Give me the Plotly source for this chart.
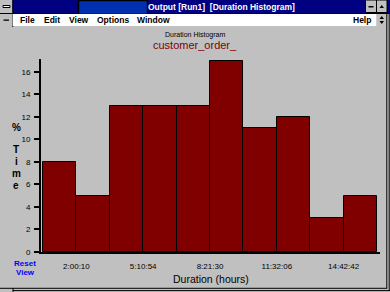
import plotly.graph_objects as go

# ---- data ----
bin_index = [0.5, 1.5, 2.5, 3.5, 4.5, 5.5, 6.5, 7.5, 8.5, 9.5]
pct_time = [8, 5, 13, 13, 13, 17, 11, 12, 3, 5]
x_tick_vals = [1, 3, 5, 7, 9]
x_tick_text = ["2:00:10", "5:10:54", "8:21:30", "11:32:06", "14:42:42"]
y_tick_vals = [0, 2, 4, 6, 8, 10, 12, 14, 16]
menu_items = ["File", "Edit", "View", "Options", "Window"]
menu_x = [19, 43, 68, 96, 136]

W, H = 390, 292
L, R, T, B = 41, 10, 59, 40
PW, PH = W - L - R, H - T - B

def px(x):
    return (x - L) / PW

def py(y):
    return (H - B - y) / PH

GREY = "#c0c0c0"
NAVY = "#000080"
FONT = "Liberation Sans, Arial, sans-serif"
NARROW = "Liberation Sans Narrow, Arial Narrow, Liberation Sans, sans-serif"

fig = go.Figure()
fig.add_trace(go.Bar(
    x=bin_index, y=pct_time, width=1,
    marker=dict(color="#800000", line=dict(color="black", width=1)),
    hoverinfo="skip",
))

shapes = []
def rect(x0, y0, x1, y1, fill, line=None, lw=0):
    shapes.append(dict(type="rect", xref="paper", yref="paper",
                       x0=px(x0), x1=px(x1), y0=py(y1), y1=py(y0),
                       fillcolor=fill,
                       line=dict(color=line or fill, width=lw)))

def hline(x0, x1, y, color="black", w=1):
    shapes.append(dict(type="line", xref="paper", yref="paper",
                       x0=px(x0), x1=px(x1), y0=py(y), y1=py(y),
                       line=dict(color=color, width=w)))

def vline(x, y0, y1, color="black", w=1):
    shapes.append(dict(type="line", xref="paper", yref="paper",
                       x0=px(x), x1=px(x), y0=py(y0), y1=py(y1),
                       line=dict(color=color, width=w)))

# title bar
rect(0, 0, 390, 13, NAVY)
hline(0, 390, 13.5)
# system box
rect(0, 0, 12.5, 13, GREY)
vline(12.8, 0, 27)
rect(3, 5.5, 10, 7.5, "white", "black", 1)
# blue overlay rect
rect(78.5, 0.5, 147.5, 14.5, "#0030b0", "black", 1.5)
# title buttons
rect(365.5, 0, 376.5, 12.5, GREY, "black", 1)
rect(376.5, 0, 387, 12.5, GREY, "black", 1)
rect(368.5, 6, 373.5, 7.5, "black")
shapes.append(dict(type="path", xref="paper", yref="paper",
                   path=f"M {px(379.5)},{py(8)} L {px(384)},{py(8)} L {px(381.75)},{py(5)} Z",
                   fillcolor="black", line=dict(color="black", width=0)))
# menu bar
rect(13, 14, 376.5, 26, "white")
rect(0, 14, 12.5, 26, GREY)
rect(3.5, 19.5, 9, 20.8, "black")
rect(376.5, 14, 387, 26, GREY, "black", 0)
shapes.append(dict(type="path", xref="paper", yref="paper",
                   path=f"M {px(379.5)},{py(19)} L {px(384)},{py(19)} L {px(381.75)},{py(16)} Z "
                        f"M {px(379.5)},{py(21)} L {px(384)},{py(21)} L {px(381.75)},{py(24)} Z",
                   fillcolor="black", line=dict(color="black", width=0)))
# window borders
vline(386.8, 13, 288.5, "black", 1)
vline(389.2, 13, 291, "black", 1)
hline(0, 387, 288.3, "black", 1)
hline(13, 390, 290.6, "black", 1)
vline(13, 288, 292, "black", 1)

annotations = []
def text(t, x, y, size, color="black", xanchor="left", bold=False, font=FONT):
    annotations.append(dict(text=f"<b>{t}</b>" if bold else t,
                            x=px(x), y=py(y), xref="paper", yref="paper",
                            xanchor=xanchor, yanchor="middle", showarrow=False,
                            font=dict(size=size, color=color, family=font)))

text("Output [Run1]  [Duration Histogram]", 146, 7, 8.5, "white", bold=True, font=NARROW)
for item, mx in zip(menu_items, menu_x):
    text(item, mx - 1, 20, 8.5, "black", font=NARROW, bold=True)
text("Help", 351, 20, 8.5, "black", font=NARROW, bold=True)
text("Duration Histogram", 195, 35, 7, "black", "center")
text("customer_order_", 195, 45, 11, "#800000", "center")
for ch, yy in zip(["%", "T", "i", "m", "e"], [127, 149, 161, 173, 185]):
    text(ch, 16, yy, 10, "black", "center", bold=True)
text("Reset", 25, 263, 8, "#0000ff", "center", bold=True)
text("View", 25, 272, 8, "#0000ff", "center", bold=True)
text("Duration (hours)", 210.5, 279, 10.5, "black", "center")

fig.update_layout(
    width=W, height=H,
    margin=dict(l=L, r=R, t=T, b=B, pad=0),
    paper_bgcolor=GREY, plot_bgcolor=GREY,
    showlegend=False,
    bargap=0,
    shapes=shapes, annotations=annotations,
    font=dict(family=FONT, color="black"),
    xaxis=dict(range=[-0.06, 10.09], tickvals=x_tick_vals, ticktext=x_tick_text,
               ticks="", showline=True, linecolor="black", linewidth=2,
               showgrid=False, zeroline=False, fixedrange=True,
               tickfont=dict(size=8, family=FONT, color="black"),
               ticklabelstandoff=5),
    yaxis=dict(range=[0, 17.15], tickvals=y_tick_vals, ticks="outside", ticklen=5,
               tickwidth=1.5, tickcolor="black", showline=True, linecolor="black",
               linewidth=2, showgrid=False, zeroline=False, fixedrange=True,
               tickfont=dict(size=8, family=FONT, color="black"),
               ticklabelstandoff=2),
)

fig.write_html("out.html", config={"displayModeBar": False})
